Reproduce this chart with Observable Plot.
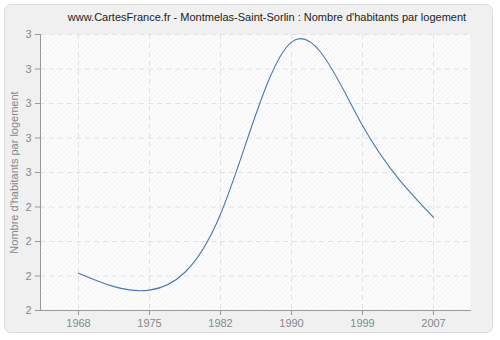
<!DOCTYPE html>
<html>
<head>
<meta charset="utf-8">
<script src="https://cdn.jsdelivr.net/npm/d3@7"></script>
<script src="https://cdn.jsdelivr.net/npm/@observablehq/plot@0.6"></script>
<style>
  html, body { margin: 0; padding: 0; background: #ffffff; }
  #wrap { position: relative; width: 500px; height: 340px; overflow: hidden; }
  #panel { position: absolute; left: 4px; top: 4px; width: 489px; height: 329px;
           background: #f0f0f0; border: 1px solid #dcdcdc; border-radius: 7px; box-sizing: border-box; }
  #title { position: absolute; left: 0; width: 534px; top: 11px; text-align: center;
           font: 11px "Liberation Sans", Arial, sans-serif; color: #222; }
  #chart { position: absolute; left: 0; top: 0; }
</style>
</head>
<body>
<div id="wrap">
  <div id="panel"></div>
  <div id="title">www.CartesFrance.fr - Montmelas-Saint-Sorlin : Nombre d'habitants par logement</div>
  <div id="chart"></div>
</div>
<script>
const years = ["1968", "1975", "1982", "1990", "1999", "2007"];
const values = [2.208, 2.159, 2.379, 2.878, 2.636, 2.370];
const yTicks = [2.1, 2.2, 2.3, 2.4, 2.5, 2.6, 2.7, 2.8, 2.9];
const yTickLabels = ["2", "2", "2", "2", "3", "3", "3", "3", "3"];
const yTitle = "Nombre d'habitants par logement";

const data = years.map((y, i) => ({year: y, value: values[i]}));

const chart = Plot.plot({
  width: 500,
  height: 340,
  marginLeft: 40,
  marginRight: 30,
  marginTop: 34,
  marginBottom: 30,
  style: {fontFamily: "'Liberation Sans', Arial, sans-serif", fontSize: "11px", background: "transparent", overflow: "visible"},
  x: {type: "point", domain: years, padding: 0.5},
  y: {domain: [2.1, 2.9]},
  marks: [
    Plot.frame({fill: "url(#hatch)", stroke: "none"}),
    Plot.ruleY(yTicks, {stroke: "#e2e2e2", strokeDasharray: "5,4"}),
    Plot.ruleX(years, {stroke: "#e2e2e2", strokeDasharray: "5,4"}),
    Plot.axisX({ticks: years, tickSize: 5, stroke: "#999", color: "#888", tickPadding: 4, label: null}),
    Plot.axisY({ticks: yTicks, tickFormat: (d, i) => yTickLabels[i], tickSize: 5, stroke: "#999", color: "#888", tickPadding: 4,
      label: yTitle, labelAnchor: "center", labelArrow: "none", labelOffset: 30}),
    Plot.frame({anchor: "left", stroke: "#999"}),
    Plot.frame({anchor: "bottom", stroke: "#999"}),
    Plot.line(data, {x: "year", y: "value", curve: "natural", stroke: "#4a78b0", strokeWidth: 1.1})
  ]
});

const svg = d3.select(chart);
const defs = svg.insert("defs", ":first-child");
const pat = defs.append("pattern").attr("id", "hatch").attr("patternUnits", "userSpaceOnUse")
  .attr("width", 5).attr("height", 5);
pat.append("rect").attr("width", 5).attr("height", 5).attr("fill", "#fcfcfc");
pat.append("path").attr("d", "M0,5 L5,0 M-1,1 L1,-1 M4,6 L6,4").attr("stroke", "#ececec").attr("stroke-width", 0.8);

document.getElementById("chart").appendChild(chart);
</script>
</body>
</html>
